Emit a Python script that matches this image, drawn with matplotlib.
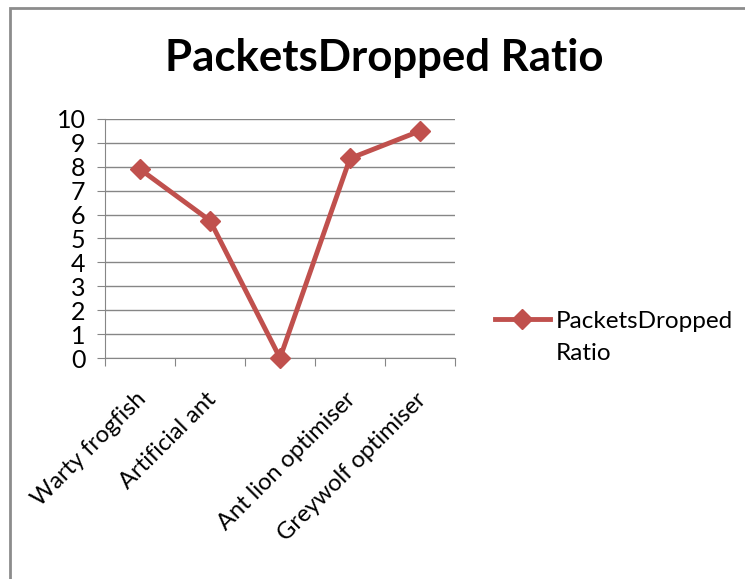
import matplotlib
matplotlib.use("Agg")
import matplotlib.pyplot as plt
import matplotlib.transforms as mtransforms
from matplotlib.patches import Rectangle
import numpy as np

# DATA
categories = ["Warty frogfish", "Artificial ant", "", "Ant lion optimiser", "Greywolf optimiser"]
ratio = [7.9, 5.75, 0.0, 8.35, 9.5]
series_name = "PacketsDropped"
series_name_2 = "Ratio"
y_ticks = list(range(0, 11))

plt.rcParams['font.family'] = ['Lato', 'DejaVu Sans']

fig = plt.figure(figsize=(7.45, 5.79), dpi=100)
W, H = 745, 579
# outer chart border (gray), only left and top edges visible
fig.patches.append(Rectangle((10 / W, -0.1), 1.0, 1.1 - 8 / H, transform=fig.transFigure,
                             fill=False, edgecolor="#8c8c8c", linewidth=2.0))

ax = fig.add_axes([105 / W, 1 - 358 / H, 350 / W, 239 / H])
x = np.arange(1, len(categories) + 1)
line_color = "#C0504D"
ax.plot(x, ratio, color=line_color, linewidth=3.5, marker="D", markersize=10.5,
        label=series_name, clip_on=False, zorder=5)

ax.set_xlim(0.5, len(categories) + 0.5)
ax.set_ylim(0, 10)
ax.set_yticks(y_ticks)
ax.grid(axis="y", color="#868686", linewidth=1.0)
ax.set_axisbelow(True)

# ticks at category boundaries, labels at centres
ax.set_xticks(np.arange(0.5, len(categories) + 1, 1.0))
ax.set_xticklabels([])
ax.set_xticks(x, minor=True)
ax.set_xticklabels(categories, minor=True, rotation=45, ha="right",
                   rotation_mode="anchor", fontsize=17)
ax.tick_params(axis="x", which="minor", length=0, pad=22)
ax.tick_params(axis="x", which="major", length=6, color="#868686", direction="out")
ax.tick_params(axis="y", length=6, color="#868686", labelsize=18, pad=8)
shift = mtransforms.ScaledTranslation(-5 / 100, 0, fig.dpi_scale_trans)
for lbl in ax.get_xticklabels(minor=True):
    lbl.set_transform(lbl.get_transform() + shift)

for s in ["top", "right"]:
    ax.spines[s].set_visible(False)
ax.spines["left"].set_color("#868686")
ax.spines["bottom"].set_color("#868686")

fig.text(384 / W, 1 - 58 / H, "PacketsDropped Ratio", ha="center", va="center",
         fontsize=31.5, fontweight="bold")

leg = fig.legend(loc="center left", bbox_to_anchor=(495 / W, 1 - 321 / H),
                 frameon=False, fontsize=17.5, handlelength=2.25, handletextpad=0.25,
                 borderpad=0, borderaxespad=0)

# second line of the legend label, under the first
fig.canvas.draw()
bb = leg.get_texts()[0].get_window_extent()
fig.text(bb.x0 / W, (bb.y0 - 32) / H, series_name_2, ha="left", va="bottom", fontsize=17.5)

fig.savefig("out.png", dpi=100)
